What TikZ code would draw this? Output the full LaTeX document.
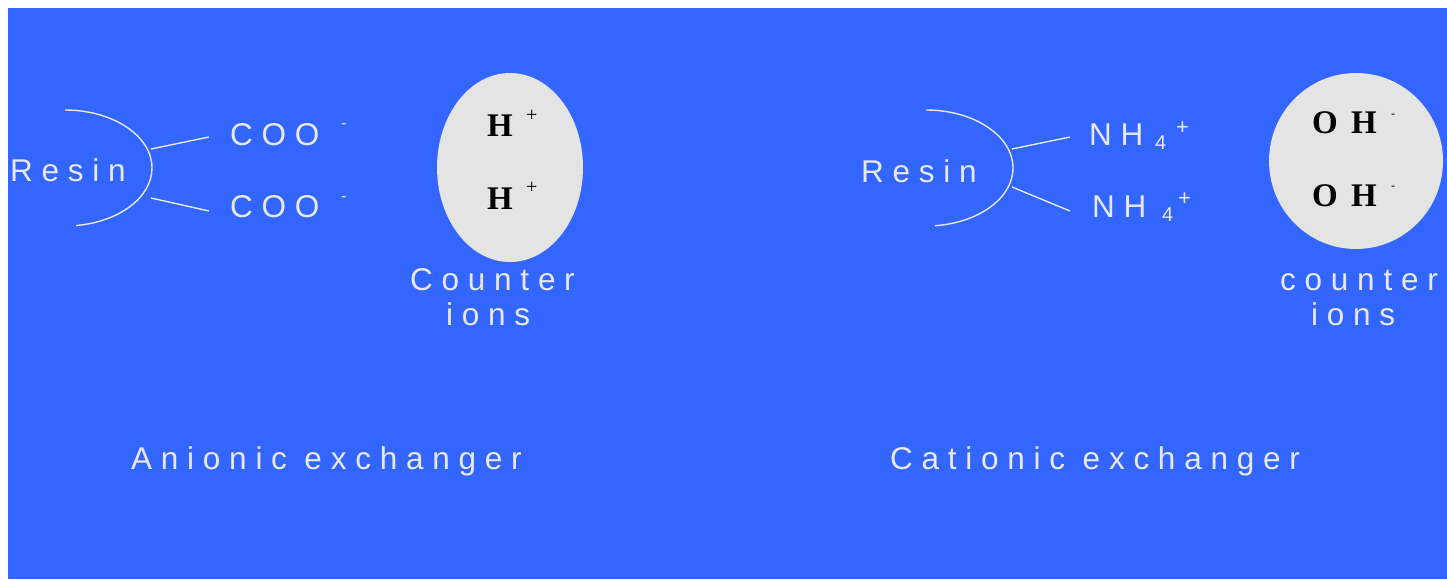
\documentclass[tikz,border=0pt]{standalone}
\usepackage{fontspec}
\newfontfamily\sansf{Liberation Sans}
\newfontfamily\seriff{Liberation Serif}
\definecolor{bg}{HTML}{3366FF}
\definecolor{fg}{HTML}{E8E8E8}
\definecolor{blob}{HTML}{E4E4E4}
\tikzset{
  lbl/.style={font=\sansf\fontsize{31.5}{38}\selectfont, text=fg, inner sep=0pt, anchor=base west},
  supm/.style={font=\sansf\fontsize{16}{19}\selectfont, text=fg, inner sep=0pt, anchor=base west},
  subn/.style={font=\sansf\fontsize{20}{24}\selectfont, text=fg, inner sep=0pt, anchor=base west},
  supp/.style={font=\sansf\fontsize{22}{26}\selectfont, text=fg, inner sep=0pt, anchor=base west},
  ion/.style={font=\seriff\bfseries\fontsize{33}{38}\selectfont, text=black, inner sep=0pt, anchor=base west},
  ionsup/.style={font=\seriff\fontsize{20}{24}\selectfont, text=black, inner sep=0pt, anchor=base west},
  ionmin/.style={font=\seriff\fontsize{12}{14}\selectfont, text=black, inner sep=0pt, anchor=base west},
  wire/.style={draw=fg, line width=1.4pt},
  blobstyle/.style={fill=blob, draw=none},
}
\begin{document}
\begin{tikzpicture}[x=1pt,y=-1pt]
\useasboundingbox (0,0) rectangle (1447,579);
\fill[white] (0,0) rectangle (1447,579);
\fill[bg] (8,8) rectangle (1447,579);

% ---------- Left: anionic exchanger ----------
\node[lbl] (resinL) at (10,181) {R e s i n};
\coordinate (arcLtop) at (65,110);
\draw[wire] (arcLtop) arc[start angle=-90, end angle=82.7, x radius=87, y radius=58] coordinate (arcLbot);
\coordinate (brLa) at (151,149);
\coordinate (brLb) at (151,198);
\node[lbl] (cooA) at (230,145) {C O O};
\node[supm] (cooAm) at (341,128) {-};
\node[lbl] (cooB) at (230,217) {C O O};
\node[supm] (cooBm) at (341,201) {-};
\coordinate (cooAin) at (209,137);
\coordinate (cooBin) at (209,211);
\draw[wire] (brLa) -- (cooAin);
\draw[wire] (brLb) -- (cooBin);

\path[blobstyle] (510,167.5) ellipse[x radius=73, y radius=94.5];
\node[ion] (hA) at (487,136) {H};
\node[ionsup] (hAp) at (526,121) {+};
\node[ion] (hB) at (487,209) {H};
\node[ionsup] (hBp) at (526,193) {+};
\node[lbl] (ctrL1) at (410,290) {C o u n t e r};
\node[lbl] (ctrL2) at (446,325) {i o n s};

\node[lbl] (anionic) at (131,469) {A n i o n i c \ e x c h a n g e r};

% ---------- Right: cationic exchanger ----------
\node[lbl] (resinR) at (861,182) {R e s i n};
\coordinate (arcRtop) at (926,110);
\draw[wire] (arcRtop) arc[start angle=-90, end angle=84, x radius=87, y radius=58] coordinate (arcRbot);
\coordinate (brRa) at (1012,149);
\coordinate (brRb) at (1012,187);
\node[lbl] (nhA) at (1089,145) {N H};
\node[subn] (nhA4) at (1155,149) {4};
\node[supp] (nhAp) at (1176,134.5) {+};
\node[lbl] (nhB) at (1092,217) {N H};
\node[subn] (nhB4) at (1162,221) {4};
\node[supp] (nhBp) at (1178,205.5) {+};
\coordinate (nhAin) at (1070,137);
\coordinate (nhBin) at (1070,211);
\draw[wire] (brRa) -- (nhAin);
\draw[wire] (brRb) -- (nhBin);

\path[blobstyle] (1356,161) ellipse[x radius=87, y radius=88];
\node[ion] (ohA) at (1312,133.5) {O\hspace{5pt} H};
\node[ionmin] (ohAm) at (1391,117.5) {-};
\node[ion] (ohB) at (1312,206.5) {O\hspace{5pt} H};
\node[ionmin] (ohBm) at (1391,189.5) {-};
\node[lbl] (ctrR1) at (1280,290) {c o u n t e r};
\node[lbl] (ctrR2) at (1311,325) {i o n s};

\node[lbl] (cationic) at (890,469) {C a t i o n i c \ e x c h a n g e r};
\end{tikzpicture}
\end{document}
